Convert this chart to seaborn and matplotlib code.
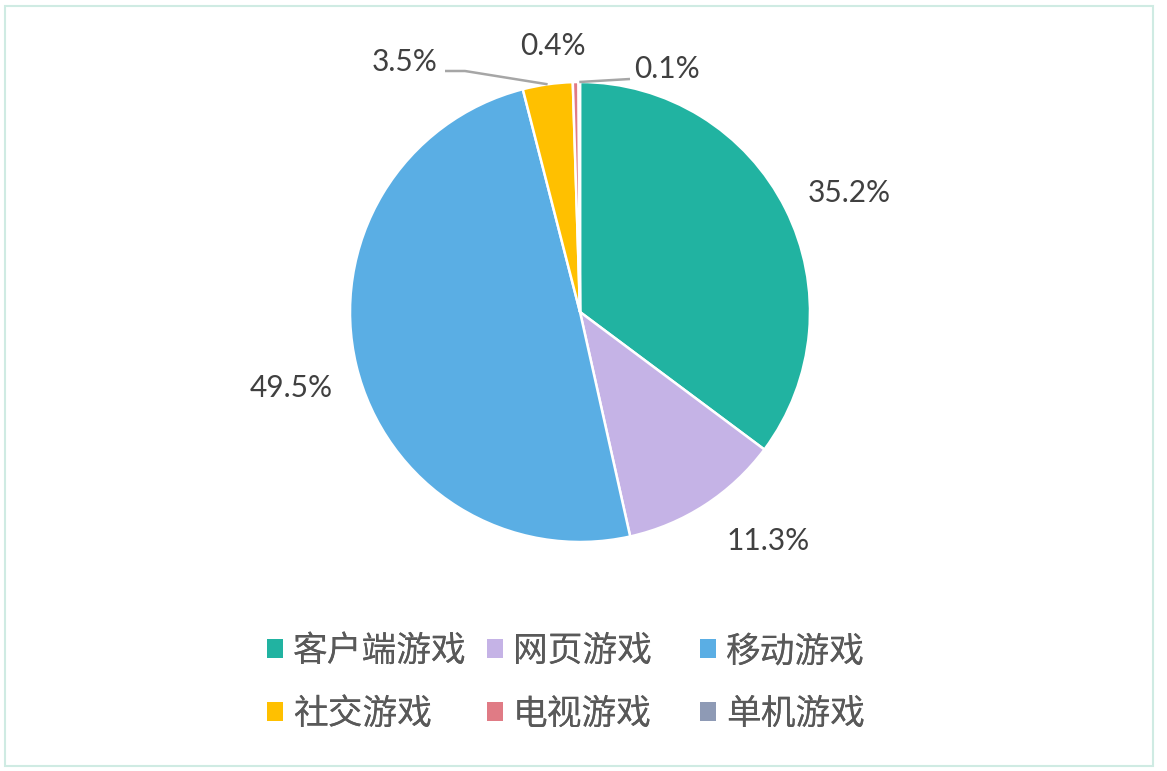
import numpy as np
import matplotlib
matplotlib.use("Agg")
import matplotlib.pyplot as plt
import seaborn as sns
from matplotlib.patches import Patch, Rectangle

sns.set_style("white")
plt.rcParams['font.family'] = ['Noto Sans CJK SC', 'DejaVu Sans']

# data
categories = ["客户端游戏", "网页游戏", "移动游戏", "社交游戏", "电视游戏", "单机游戏"]
shares = [35.2, 11.3, 49.5, 3.5, 0.4, 0.1]
pct_labels = ["35.2%", "11.3%", "49.5%", "3.5%", "0.4%", "0.1%"]
colors = ["#21B3A1", "#C5B3E6", "#5AAEE4", "#FFC000", "#E07B85", "#8E9AB5"]

W, H = 1167, 771
fig = plt.figure(figsize=(W / 100, H / 100), dpi=100)
ax = fig.add_axes([0, 0, 1, 1])

# pie in pixel coords (y measured from bottom)
cx, cy, r = 580, H - 312, 230
wedges, _ = ax.pie(shares, colors=colors, center=(cx, cy), radius=r,
                   startangle=90, counterclock=False,
                   wedgeprops=dict(edgecolor="white", linewidth=1.8))
ax.set_xlim(0, W)
ax.set_ylim(0, H)
ax.set_aspect("equal")
ax.axis("off")

# label layout: (x, y from top, ha) and optional leader line elbow
label_layout = [
    (808, 193, "left", None),
    (727, 541, "left", None),
    (333, 388, "right", None),
    (438, 62, "right", (465, 71)),
    (553, 46, "center", None),
    (634, 69, "left", (630, 79)),
]
pct_font = dict(family=["Lato", "DejaVu Sans"], size=21.5, color="#404040")
for w, lab, (lx, ly, ha, elbow) in zip(wedges, pct_labels, label_layout):
    ax.text(lx, H - ly, lab, ha=ha, va="center", **pct_font)
    if elbow is not None:
        ang = np.deg2rad((w.theta1 + w.theta2) / 2)
        ex, ey = cx + r * np.cos(ang), cy + r * np.sin(ang)
        if ha == "right":
            xs = [lx + 7, elbow[0], ex]
            ys = [H - elbow[1], H - elbow[1], ey]
        else:
            xs = [lx - 4, ex]
            ys = [H - elbow[1], ey]
        ax.plot(xs, ys, color="#A6A6A6", lw=1.8, solid_capstyle="butt")

# legend: three columns, two rows each (row-wise order like the source)
col_x = [267, 487, 700]
for i, x in enumerate(col_x):
    idx = [i, i + 3]
    handles = [Patch(facecolor=colors[k], edgecolor="none") for k in idx]
    leg = fig.legend(handles, [categories[k] for k in idx],
                     loc="center left", bbox_to_anchor=(x / W, (H - 683) / H),
                     frameon=False, fontsize=25, labelcolor="#595959",
                     handlelength=0.45, handleheight=0.45, handletextpad=0.3,
                     labelspacing=0.8, borderpad=0, borderaxespad=0)
    fig.add_artist(leg)

# outer frame
fig.patches.append(Rectangle((5 / W, 5 / H), 1148 / W, 760 / H, transform=fig.transFigure,
                             fill=False, edgecolor="#CFEBE3", linewidth=1.5))

fig.savefig("out.png", dpi=100)
